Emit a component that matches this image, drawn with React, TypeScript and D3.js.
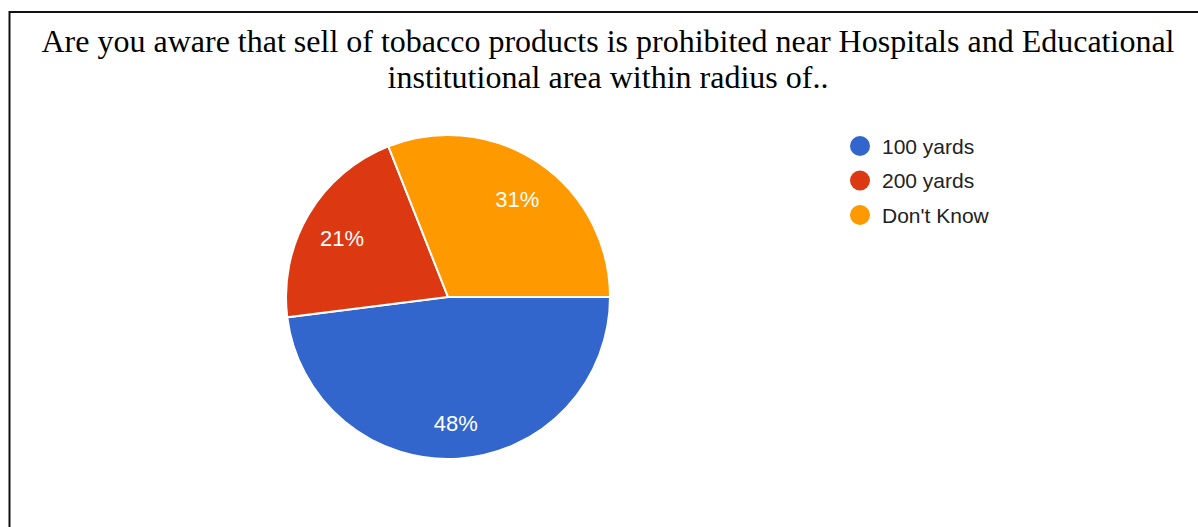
import React from "react";
import * as d3 from "d3";

const titleLines = [
  "Are you aware that sell of tobacco products is prohibited near Hospitals and Educational",
  "institutional area within radius of..",
];
const categories = ["100 yards", "200 yards", "Don't Know"];
const values = [48, 21, 31];
const colors = ["#3366cc", "#dc3912", "#ff9900"];

const W = 1198;
const H = 527;

export default function App() {
  const cx = 448;
  const cy = 297;
  const r = 162;
  const pie = d3
    .pie<number>()
    .sort(null)
    .startAngle(Math.PI / 2)
    .endAngle(Math.PI / 2 + 2 * Math.PI)
    .value((d) => d);
  const arcs = pie(values);
  const arc = d3.arc<d3.PieArcDatum<number>>().innerRadius(0).outerRadius(r);
  const labelArc = d3
    .arc<d3.PieArcDatum<number>>()
    .innerRadius(r * 0.76)
    .outerRadius(r * 0.76);
  const total = d3.sum(values);
  const fmt = d3.format(".0%");

  return (
    <svg
      width={W}
      height={H}
      style={{ position: "absolute", left: 0, top: 0, background: "#fff" }}
    >
      <rect x={0} y={0} width={W} height={H} fill="#fff" />
      <line x1={9.5} y1={12} x2={W} y2={12} stroke="#111" strokeWidth={2} />
      <line x1={9.5} y1={11} x2={9.5} y2={H} stroke="#111" strokeWidth={2} />
      <g fontFamily="'Liberation Serif', 'Times New Roman', serif" fontSize={32} fill="#000">
        {titleLines.map((t, i) => (
          <text key={i} x={608} y={52 + i * 36} textAnchor="middle">
            {t}
          </text>
        ))}
      </g>
      <g transform={`translate(${cx},${cy})`}>
        {arcs.map((a, i) => (
          <path key={i} d={arc(a) || ""} fill={colors[i]} stroke="#fff" strokeWidth={2} />
        ))}
        {arcs.map((a, i) => {
          const [lx, ly] = labelArc.centroid(a);
          return (
            <text
              key={"l" + i}
              x={lx}
              y={ly + 4}
              textAnchor="middle"
              dominantBaseline="central"
              fill="#fff"
              fontFamily="'Liberation Sans', Arial, sans-serif"
              fontSize={22}
            >
              {fmt(a.data / total)}
            </text>
          );
        })}
      </g>
      <g fontFamily="'Liberation Sans', Arial, sans-serif" fontSize={21} fill="#222">
        {categories.map((c, i) => (
          <g key={c} transform={`translate(860,${146 + i * 34.5})`}>
            <circle r={10} fill={colors[i]} />
            <text x={22} y={0} dominantBaseline="central">
              {c}
            </text>
          </g>
        ))}
      </g>
    </svg>
  );
}
